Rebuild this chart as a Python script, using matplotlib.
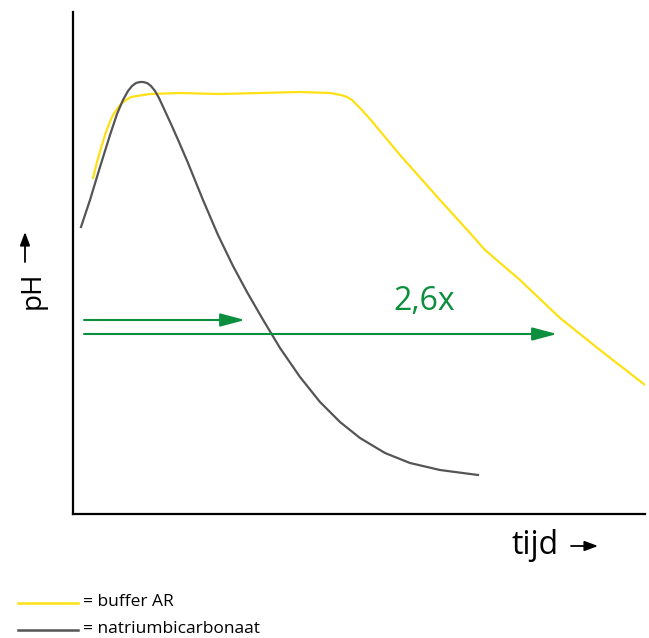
import numpy as np
import matplotlib
matplotlib.use('Agg')
import matplotlib.pyplot as plt
from matplotlib.lines import Line2D
from matplotlib.patches import FancyArrowPatch

plt.rcParams['font.family'] = ['Open Sans', 'DejaVu Sans']

# curves (tijd, pH in arbitrary units)
t_buffer = [20, 24, 28, 32, 36, 40, 44, 48, 53, 58, 64, 77, 107, 147, 187, 227, 257, 268, 274,
            279, 287, 297, 327, 367, 397, 412, 447, 487, 527, 572]
ph_buffer = [336, 352, 366, 379, 390, 399, 405, 410, 414, 417, 418, 420, 421, 420, 421, 422, 421,
             419, 417, 414, 406, 395, 359, 314, 281, 264, 234, 196, 164, 129]

t_natrium = [8, 17, 27, 37, 44, 50, 55, 59, 63, 67, 70, 74, 78, 82, 86, 92, 98, 106, 115, 130,
             145, 160, 174, 189, 207, 227, 247, 267, 287, 312, 337, 367, 405]
ph_natrium = [287, 314, 347, 379, 400, 414, 423, 428, 431, 432, 432, 431, 428, 423, 416, 403, 390,
              372, 351, 314, 279, 248, 222, 196, 166, 137, 112, 92, 76, 61, 51, 44, 39]

# arrows: (start, end, level)
arrow_short = (11, 172, 194)
arrow_long = (11, 484, 180)
factor_label = '2,6x'

yellow = '#ffe014'
grey = '#555555'
green = '#0b8f3c'

fig = plt.figure(figsize=(6.49, 6.38), dpi=100)
ax = fig.add_axes([73/649, 124/638, 572/649, 502/638])

ax.plot(t_buffer, ph_buffer, color=yellow, lw=1.6, solid_joinstyle='round')
ax.plot(t_natrium, ph_natrium, color=grey, lw=1.6, solid_joinstyle='round')

for a in (arrow_short, arrow_long):
    ax.annotate('', xy=(a[1], a[2]), xytext=(a[0], a[2]),
                arrowprops=dict(arrowstyle='-|>,head_length=1.5,head_width=0.4',
                                color=green, lw=1.5, shrinkA=0, shrinkB=0,
                                mutation_scale=10))
ax.text(351, 212, factor_label, color=green, fontsize=23, ha='center', va='center')

ax.set_xlim(0, 572)
ax.set_ylim(0, 502)
ax.set_xticks([])
ax.set_yticks([])
for s in ['top', 'right']:
    ax.spines[s].set_visible(False)
for s in ['left', 'bottom']:
    ax.spines[s].set_linewidth(1.6)
    ax.spines[s].set_color('black')

# axis labels with small arrows
fig.text(33/649, 1 - 290/638, 'pH', rotation=90, fontsize=20,
         ha='center', va='center')
fig.text(535/649, 1 - 546/638, 'tijd', fontsize=23, ha='center', va='center')
ann_kw = dict(arrowstyle='-|>,head_length=0.8,head_width=0.3', color='black', lw=1.3,
              shrinkA=0, shrinkB=0, mutation_scale=10)
fig.add_artist(FancyArrowPatch((25/649, 1 - 262/638), (25/649, 1 - 232/638),
                               transform=fig.transFigure, **ann_kw))
fig.add_artist(FancyArrowPatch((571/649, 1 - 546/638), (598/649, 1 - 546/638),
                               transform=fig.transFigure, **ann_kw))

# legend drawn by hand below the plot
legend_items = [('= buffer AR', yellow, 603), ('= natriumbicarbonaat', grey, 630)]
for label, col, ypx in legend_items:
    fig.add_artist(Line2D([18/649, 78/649], [1 - ypx/638, 1 - ypx/638],
                          color=col, lw=1.8, transform=fig.transFigure))
    fig.text(83/649, 1 - (ypx - 1)/638, label, fontsize=12.5, ha='left', va='center')

fig.savefig('out.png', dpi=100)
